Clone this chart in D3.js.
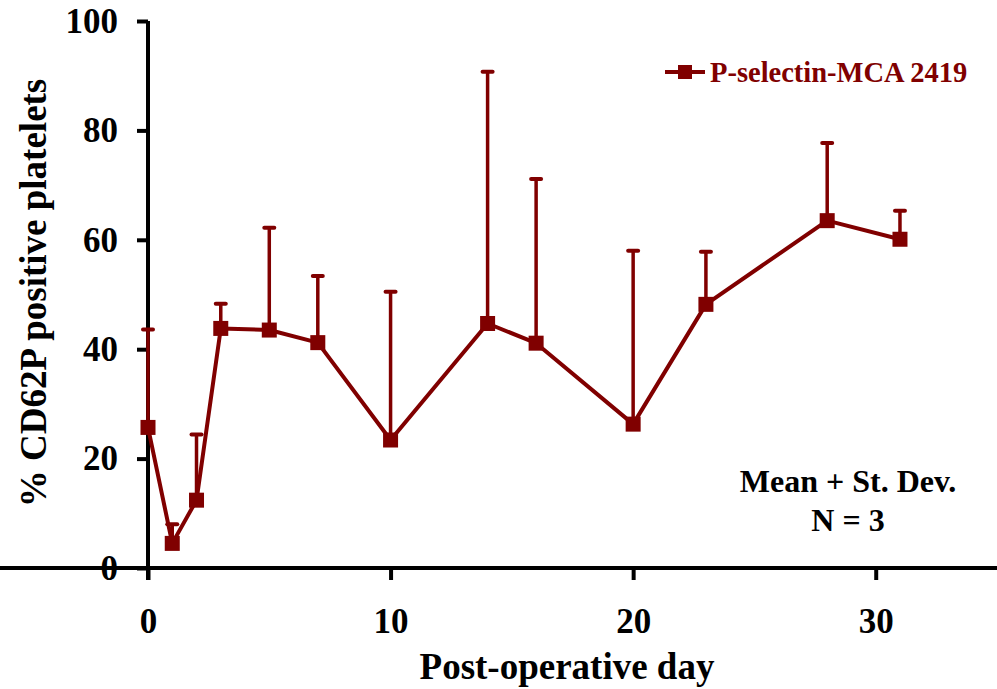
<!DOCTYPE html>
<html>
<head>
<meta charset="utf-8">
<script src="https://cdn.jsdelivr.net/npm/d3@7"></script>
<style>
  html, body { margin: 0; padding: 0; background: #fff; }
  svg { display: block; font-family: "Liberation Serif", "Times New Roman", serif; font-weight: bold; }
</style>
</head>
<body>
<svg id="chart" width="997" height="689"></svg>
<script>
// Post-operative days sampled
const days = [0, 1, 2, 3, 5, 7, 10, 14, 16, 20, 23, 28, 31];
// Mean % CD62P positive platelets
const means = [25.7, 4.5, 12.4, 43.8, 43.5, 41.2, 23.4, 44.7, 41.1, 26.3, 48.2, 63.5, 60.1];
// Upper end of error bars (mean + SD)
const upper = [43.6, 8.0, 24.4, 48.3, 62.2, 53.4, 50.5, 90.7, 71.1, 58.0, 57.8, 77.7, 65.3];
const xTicks = [0, 10, 20, 30];
const yTicks = [0, 20, 40, 60, 80, 100];
const seriesName = "P-selectin-MCA 2419";
const noteLines = ["Mean + St. Dev.", "N = 3"];

const color = "#800000";
const svg = d3.select("#chart");

const x = d3.scaleLinear().domain([0, 35]).range([148, 997]);
const y = d3.scaleLinear().domain([0, 100]).range([568, 21]);

// Axes
const xAxis = svg.append("g").attr("transform", `translate(0,${y(0)})`)
  .call(d3.axisBottom(x).tickValues(xTicks).tickSize(12).tickPadding(28).tickSizeOuter(0));
const yAxis = svg.append("g").attr("transform", `translate(${x(0)},0)`)
  .call(d3.axisLeft(y).tickValues(yTicks).tickSize(11).tickPadding(19).tickSizeOuter(0));

[xAxis, yAxis].forEach(g => {
  g.select(".domain").attr("stroke", "#000").attr("stroke-width", 4);
  g.selectAll(".tick line").attr("stroke", "#000").attr("stroke-width", 4);
  g.selectAll(".tick text").attr("fill", "#000")
    .style("font-family", '"Liberation Serif", serif').style("font-weight", "bold").style("font-size", "35px");
});
yAxis.select(".domain").attr("d", `M0,${y(100)}V${y(0) + 12}`);
xAxis.select(".domain").attr("d", `M${-11},0H${x(35)}`);

// Axis titles
svg.append("text").attr("x", 567).attr("y", 679).attr("text-anchor", "middle")
  .style("font-size", "37px").attr("fill", "#000").text("Post-operative day");
svg.append("text").attr("transform", "translate(46,293) rotate(-90)").attr("text-anchor", "middle")
  .style("font-size", "37px").attr("fill", "#000").text("% CD62P positive platelets");

const pts = days.map((d, i) => ({ d, m: means[i], u: upper[i] }));

// Error bars (upper only)
const eb = svg.append("g");
eb.selectAll("line.bar").data(pts).join("line").attr("class", "bar")
  .attr("x1", p => x(p.d)).attr("x2", p => x(p.d))
  .attr("y1", p => y(p.m)).attr("y2", p => y(p.u))
  .attr("stroke", color).attr("stroke-width", 3.5);
eb.selectAll("line.cap").data(pts).join("line").attr("class", "cap")
  .attr("x1", p => x(p.d) - 5).attr("x2", p => x(p.d) + 5)
  .attr("y1", p => y(p.u)).attr("y2", p => y(p.u))
  .attr("stroke", color).attr("stroke-width", 4).attr("stroke-linecap", "round");

// Series line
svg.append("path").datum(pts)
  .attr("d", d3.line().x(p => x(p.d)).y(p => y(p.m)))
  .attr("fill", "none").attr("stroke", color).attr("stroke-width", 4).attr("stroke-linejoin", "round");

// Square markers
const s = 15;
svg.append("g").selectAll("rect").data(pts).join("rect")
  .attr("x", p => x(p.d) - s / 2).attr("y", p => y(p.m) - s / 2)
  .attr("width", s).attr("height", s).attr("fill", color);

// Legend
const lg = svg.append("g").attr("transform", "translate(0,72)");
lg.append("line").attr("x1", 665).attr("x2", 705).attr("y1", 0).attr("y2", 0)
  .attr("stroke", color).attr("stroke-width", 4);
lg.append("rect").attr("x", 685 - 7).attr("y", -7).attr("width", 14).attr("height", 14).attr("fill", color);
lg.append("text").attr("x", 710).attr("y", 10).attr("fill", color).style("font-size", "28.5px").text(seriesName);

// Annotation
svg.append("g").selectAll("text").data(noteLines).join("text")
  .attr("x", 848).attr("y", (d, i) => 492 + i * 39).attr("text-anchor", "middle")
  .attr("fill", "#000").style("font-size", "32px").text(d => d);
</script>
</body>
</html>
